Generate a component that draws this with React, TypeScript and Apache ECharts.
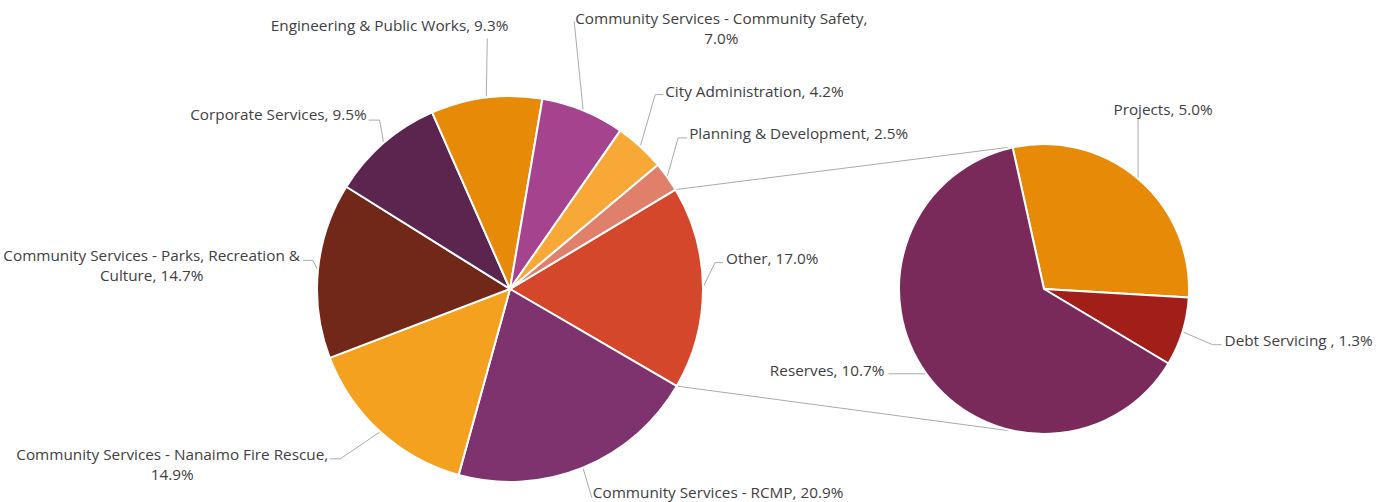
import { useEffect, useRef } from "react";
import * as echarts from "echarts";

// ---- data ----
const mainNames = [
  "Other",
  "Community Services - RCMP",
  "Community Services - Nanaimo Fire Rescue",
  "Community Services - Parks, Recreation & Culture",
  "Corporate Services",
  "Engineering & Public Works",
  "Community Services - Community Safety",
  "City Administration",
  "Planning & Development",
];
const mainValues = [17.0, 20.9, 14.9, 14.7, 9.5, 9.3, 7.0, 4.2, 2.5];

const subNames = ["Projects", "Debt Servicing ", "Reserves"];
const subValues = [5.0, 1.3, 10.7];

// ---- styles ----
const mainColors = ["#D4472A", "#7E336E", "#F4A11F", "#722818", "#5C2550", "#E68A08", "#A6438E", "#F8A836", "#E07F6A"];
const subColors = ["#E68A08", "#A21F19", "#7A2A5A"];

const FONT_FAMILY = "Open Sans";
const FONT_SIZE = 15.3;
const TEXT_COLOR = "#404040";
const LINE_COLOR = "#ABABAB";

const MAIN_C = [510, 289];
const MAIN_R = 193;
const MAIN_START = 31;
const SUB_C = [1044, 289];
const SUB_R = 145;
const SUB_START = 102.5;
const CONNECT_ANGLE = 104;

type LC = { pts: number[][]; lx: number; ly: number; anchor: "left" | "right" | "center"; breakAfter?: string };

// label placement relative to the slice's mid-angle edge point
const mainLabelCfg: LC[] = [
  { pts: [[12, -25], [20, -25]], lx: 23, ly: -30, anchor: "left" },
  { pts: [[9, 30]], lx: 10, ly: 24, anchor: "left" },
  { pts: [[-40, 27], [-50, 27]], lx: -52, ly: 32, anchor: "right", breakAfter: "Rescue," },
  { pts: [[-5, -10], [-15, -10]], lx: -18, ly: -5, anchor: "right", breakAfter: "&" },
  { pts: [[-4, -23], [-15, -23]], lx: -17, ly: -29, anchor: "right" },
  { pts: [[1, -59]], lx: 22, ly: -72, anchor: "right" },
  { pts: [[-9, -89]], lx: -8, ly: -82, anchor: "left", breakAfter: "Safety," },
  { pts: [[15, -52], [23, -52]], lx: 25, ly: -56, anchor: "left" },
  { pts: [[11, -39], [20, -39]], lx: 22, ly: -44, anchor: "left" },
];
const subLabelCfg: LC[] = [
  { pts: [[0, -60]], lx: 25, ly: -70, anchor: "center" },
  { pts: [[30, 13], [39, 13]], lx: 42, ly: 8, anchor: "left" },
  { pts: [[-38, 0]], lx: -42, ly: -4, anchor: "right" },
];

let measureCtx: CanvasRenderingContext2D | null = null;
function textWidth(text: string): number {
  if (!measureCtx) {
    const c = document.createElement("canvas");
    measureCtx = c.getContext("2d");
  }
  if (!measureCtx) return text.length * 7.5;
  measureCtx.font = `${FONT_SIZE}px "${FONT_FAMILY}"`;
  return Math.max(...text.split("\n").map((l) => measureCtx!.measureText(l).width));
}

function labelText(name: string, value: number, cfg?: LC): string {
  let s = `${name}, ${value.toFixed(1)}%`;
  if (cfg && cfg.breakAfter) s = s.replace(cfg.breakAfter + " ", cfg.breakAfter + "\n");
  return s;
}

function makeLayout(cfgs: LC[]) {
  return (p: any) => {
    const cfg = cfgs[p.dataIndex];
    const pts = p.labelLinePoints;
    if (!cfg || !pts || !pts.length) return {};
    const s = pts[0];
    const w = textWidth(p.text || "");
    let cx = s[0] + cfg.lx;
    if (cfg.anchor === "left") cx += w / 2;
    else if (cfg.anchor === "right") cx -= w / 2;
    return {
      x: cx,
      y: s[1] + cfg.ly,
      align: "center",
      verticalAlign: "middle",
      labelLinePoints: [[s[0], s[1]], ...cfg.pts.map((q) => [s[0] + q[0], s[1] + q[1]])],
    };
  };
}

export default function App() {
  const ref = useRef<HTMLDivElement>(null);
  useEffect(() => {
    if (!ref.current) return;
    const chart = echarts.init(ref.current, null, { renderer: "svg" });
    const rad = Math.PI / 180;
    const total = mainValues.reduce((a, b) => a + b, 0);
    const otherEnd = MAIN_START - (mainValues[0] / total) * 360;
    const pt = (c: number[], r: number, a: number) => [c[0] + r * Math.cos(a * rad), c[1] - r * Math.sin(a * rad)];
    const m1 = pt(MAIN_C, MAIN_R, MAIN_START);
    const m2 = pt(MAIN_C, MAIN_R, otherEnd);
    const s1 = pt(SUB_C, SUB_R + 1, CONNECT_ANGLE);
    const s2 = pt(SUB_C, SUB_R + 1, -CONNECT_ANGLE);

    const labelBase = {
      show: true,
      color: TEXT_COLOR,
      fontFamily: FONT_FAMILY,
      fontSize: FONT_SIZE,
      lineHeight: 20,
      overflow: "none",
    };
    const labelLine = { show: true, smooth: false, lineStyle: { color: LINE_COLOR, width: 1 } };

    chart.setOption({
      animation: false,
      backgroundColor: "#ffffff",
      textStyle: { fontFamily: FONT_FAMILY },
      graphic: [
        { type: "line", shape: { x1: m1[0], y1: m1[1], x2: s1[0], y2: s1[1] }, style: { stroke: LINE_COLOR, lineWidth: 1 }, z: 0 },
        { type: "line", shape: { x1: m2[0], y1: m2[1], x2: s2[0], y2: s2[1] }, style: { stroke: LINE_COLOR, lineWidth: 1 }, z: 0 },
      ],
      series: [
        {
          type: "pie",
          center: MAIN_C,
          radius: MAIN_R,
          startAngle: MAIN_START,
          clockwise: true,
          avoidLabelOverlap: false,
          emphasis: { disabled: true },
          itemStyle: { borderColor: "#ffffff", borderWidth: 2 },
          label: {
            ...labelBase,
            formatter: (p: any) => labelText(p.name, p.value, mainLabelCfg[p.dataIndex]),
          },
          labelLine,
          labelLayout: makeLayout(mainLabelCfg),
          data: mainNames.map((n, i) => ({ name: n, value: mainValues[i], itemStyle: { color: mainColors[i] } })),
        },
        {
          type: "pie",
          center: SUB_C,
          radius: SUB_R,
          startAngle: SUB_START,
          clockwise: true,
          avoidLabelOverlap: false,
          emphasis: { disabled: true },
          itemStyle: { borderColor: "#ffffff", borderWidth: 2 },
          label: {
            ...labelBase,
            formatter: (p: any) => labelText(p.name, p.value, subLabelCfg[p.dataIndex]),
          },
          labelLine,
          labelLayout: makeLayout(subLabelCfg),
          data: subNames.map((n, i) => ({ name: n, value: subValues[i], itemStyle: { color: subColors[i] } })),
        },
      ],
    });
    return () => chart.dispose();
  }, []);
  return <div ref={ref} style={{ position: "absolute", left: 0, top: 0, width: 1388, height: 502 }} />;
}
